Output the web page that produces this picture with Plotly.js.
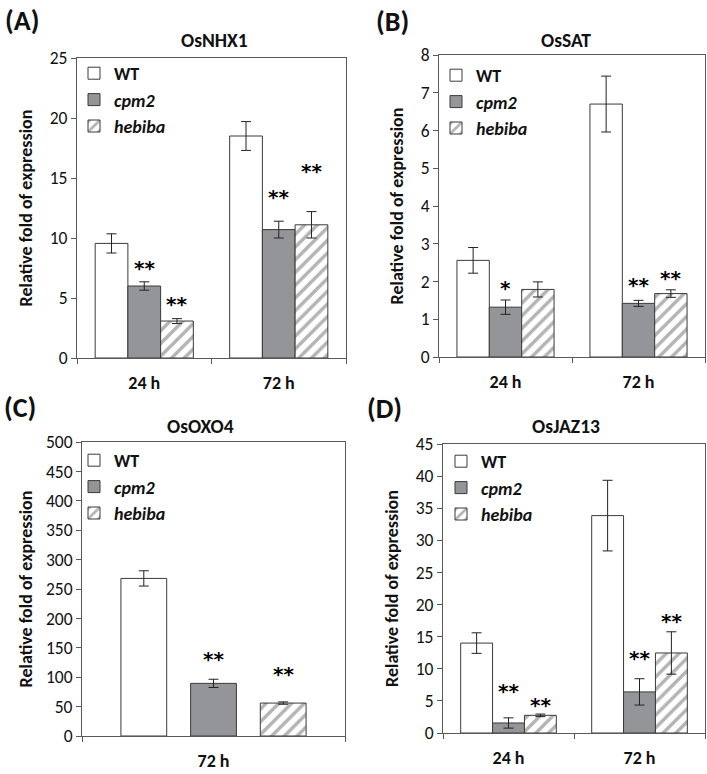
<!DOCTYPE html>
<html>
<head>
<meta charset="utf-8">
<script src="https://cdn.plot.ly/plotly-3.0.1.min.js"></script>
<style>html,body{margin:0;padding:0;background:#fff;}#chart{width:707px;height:774px;}</style>
</head>
<body>
<div id="chart"></div>
<script>
// ---------------- data ----------------
var genotypes = ['WT', 'cpm2', 'hebiba'];
var timesTwo = ['24 h', '72 h'];
var timesOne = ['72 h'];

// (A) OsNHX1
var nhx1WT = [9.55, 18.5];        var nhx1WTErr = [0.8, 1.2];
var nhx1Cpm2 = [6.0, 10.7];       var nhx1Cpm2Err = [0.35, 0.7];
var nhx1Hebiba = [3.08, 11.1];    var nhx1HebibaErr = [0.2, 1.1];
var nhx1Cpm2Sig = ['**', '**'];   var nhx1Cpm2SigY = [7.75, 13.7];
var nhx1HebibaSig = ['**', '**']; var nhx1HebibaSigY = [4.75, 15.8];

// (B) OsSAT
var satWT = [2.56, 6.7];          var satWTErr = [0.34, 0.74];
var satCpm2 = [1.32, 1.42];       var satCpm2Err = [0.19, 0.08];
var satHebiba = [1.79, 1.68];     var satHebibaErr = [0.2, 0.1];
var satCpm2Sig = ['*', '**'];     var satCpm2SigY = [1.9, 1.99];
var satHebibaSig = ['', '**'];    var satHebibaSigY = [null, 2.17];

// (C) OsOXO4
var oxo4WT = [268];               var oxo4WTErr = [13];
var oxo4Cpm2 = [89.5];            var oxo4Cpm2Err = [7];
var oxo4Hebiba = [56];            var oxo4HebibaErr = [2];
var oxo4Cpm2Sig = ['**'];         var oxo4Cpm2SigY = [136];
var oxo4HebibaSig = ['**'];       var oxo4HebibaSigY = [110];

// (D) OsJAZ13
var jaz13WT = [14.0, 33.85];      var jaz13WTErr = [1.6, 5.5];
var jaz13Cpm2 = [1.56, 6.4];      var jaz13Cpm2Err = [0.8, 2.05];
var jaz13Hebiba = [2.75, 12.46];  var jaz13HebibaErr = [0.2, 3.3];
var jaz13Cpm2Sig = ['**', '**'];  var jaz13Cpm2SigY = [7.0, 12.2];
var jaz13HebibaSig = ['**', '**'];var jaz13HebibaSigY = [4.9, 17.9];

var yTicksA = [0, 5, 10, 15, 20, 25];
var yTicksB = [0, 1, 2, 3, 4, 5, 6, 7, 8];
var yTicksC = [0, 50, 100, 150, 200, 250, 300, 350, 400, 450, 500];
var yTicksD = [0, 5, 10, 15, 20, 25, 30, 35, 40, 45];

// ---------------- styles ----------------
var FONT = 'Carlito, Lato, sans-serif';
var AX = '#595959';
var OUT = '#3a3a3a';
var legendNames = ['<b>WT</b>', '<b><i>cpm2</i></b>', '<b><i>hebiba</i></b>'];
var BARGAP = 0.27;

function markerFor(k) {
  if (k === 0) return {color: '#ffffff', line: {color: OUT, width: 1}};
  if (k === 1) return {color: '#939598', line: {color: OUT, width: 1}};
  return {color: '#ffffff', line: {color: OUT, width: 1},
          pattern: {shape: '/', fgcolor: '#b4b4b4', bgcolor: '#ffffff', size: 9, solidity: 0.38}};
}

var traces = [];
var annotations = [];

function addPanel(ax, legendId, cats, vals, errs, sigs, sigYs, custom) {
  var xa = 'x' + (ax === 1 ? '' : ax), ya = 'y' + (ax === 1 ? '' : ax);
  for (var k = 0; k < 3; k++) {
    var t = {
      type: 'bar', x: cats, y: vals[k], name: legendNames[k],
      xaxis: xa, yaxis: ya, legend: legendId,
      marker: markerFor(k),
      error_y: {type: 'data', array: errs[k], visible: true, color: '#222', thickness: 1, width: 5},
      hoverinfo: 'y'
    };
    if (custom) { t.width = custom.width; t.offset = custom.offsets[k]; }
    traces.push(t);
  }
  // significance stars
  for (var s = 1; s < 3; s++) {
    for (var i = 0; i < cats.length; i++) {
      if (!sigs[s - 1][i]) continue;
      var xpos;
      if (custom) xpos = i + custom.offsets[s] + custom.width / 2;
      else xpos = i + (s - 1) * (1 - BARGAP) / 3;
      annotations.push({
        xref: xa, yref: ya, x: xpos, y: sigYs[s - 1][i], text: '<b>' + sigs[s - 1][i] + '</b>',
        showarrow: false, xanchor: 'center', yanchor: 'middle', yshift: -3,
        font: {family: 'DejaVu Sans', size: 20, color: '#000000'}
      });
    }
  }
}

addPanel(1, 'legend', timesTwo,
  [nhx1WT, nhx1Cpm2, nhx1Hebiba], [nhx1WTErr, nhx1Cpm2Err, nhx1HebibaErr],
  [nhx1Cpm2Sig, nhx1HebibaSig], [nhx1Cpm2SigY, nhx1HebibaSigY]);
addPanel(2, 'legend2', timesTwo,
  [satWT, satCpm2, satHebiba], [satWTErr, satCpm2Err, satHebibaErr],
  [satCpm2Sig, satHebibaSig], [satCpm2SigY, satHebibaSigY]);
addPanel(3, 'legend3', timesOne,
  [oxo4WT, oxo4Cpm2, oxo4Hebiba], [oxo4WTErr, oxo4Cpm2Err, oxo4HebibaErr],
  [oxo4Cpm2Sig, oxo4HebibaSig], [oxo4Cpm2SigY, oxo4HebibaSigY],
  {width: 0.174, offsets: [-0.352, -0.087, 0.178]});
addPanel(4, 'legend4', timesTwo,
  [jaz13WT, jaz13Cpm2, jaz13Hebiba], [jaz13WTErr, jaz13Cpm2Err, jaz13HebibaErr],
  [jaz13Cpm2Sig, jaz13HebibaSig], [jaz13Cpm2SigY, jaz13HebibaSigY]);

var W = 707, H = 774;
function px(x) { return x / W; }
function py(y) { return 1 - y / H; }

function xAxis(l, r, anchor) {
  return {
    domain: [px(l), px(r)], anchor: anchor, type: 'category',
    showline: true, linecolor: AX, linewidth: 1, mirror: true,
    ticks: 'outside', tickson: 'boundaries', ticklen: 5, tickcolor: AX,
    showgrid: false, zeroline: false, fixedrange: true,
    ticklabelstandoff: 8,
    tickfont: {family: FONT, size: 18, color: '#111', weight: 'bold'}
  };
}
function yAxis(t, b, anchor, ticks, stand) {
  return {
    domain: [py(b), py(t)], anchor: anchor,
    range: [ticks[0], ticks[ticks.length - 1]], tickvals: ticks,
    showline: true, linecolor: AX, linewidth: 1, mirror: true,
    ticks: 'outside', ticklen: 5, tickcolor: AX,
    showgrid: false, zeroline: false, fixedrange: true,
    tickfont: {family: FONT, size: 17.5, color: '#111'},
    title: {text: '<b>Relative fold of expression</b>', standoff: stand,
            font: {family: FONT, size: 18, color: '#111'}}
  };
}
function legendAt(x, y) {
  return {x: px(x), y: py(y), xref: 'paper', yref: 'paper', xanchor: 'left', yanchor: 'top',
          bgcolor: 'rgba(0,0,0,0)', borderwidth: 0, tracegroupgap: 0,
          font: {family: FONT, size: 18, color: '#111'}, traceorder: 'normal'};
}
function label(text, x, y, size) {
  annotations.push({xref: 'paper', yref: 'paper', x: px(x), y: py(y), text: text,
    showarrow: false, xanchor: 'center', yanchor: 'middle',
    font: {family: FONT, size: size, color: '#111'}});
}

label('<b>(A)</b>', 22, 20, 28);
label('<b>(B)</b>', 392, 22, 28);
label('<b>(C)</b>', 20, 407, 28);
label('<b>(D)</b>', 384, 408, 28);
label('<b>OsNHX1</b>', 214, 40, 19.5);
label('<b>OsSAT</b>', 566, 40, 19.5);
label('<b>OsOXO4</b>', 200, 426, 19.5);
label('<b>OsJAZ13</b>', 566, 426, 19.5);

var layout = {
  width: W, height: H, margin: {l: 0, r: 0, t: 0, b: 0},
  paper_bgcolor: '#ffffff', plot_bgcolor: '#ffffff',
  barmode: 'group', bargap: BARGAP, bargroupgap: 0,
  font: {family: FONT, color: '#111'},
  xaxis: xAxis(77, 346, 'y'),
  yaxis: yAxis(58, 358, 'x', yTicksA, 12),
  xaxis2: xAxis(439, 705, 'y2'),
  yaxis2: yAxis(55, 357, 'x2', yTicksB, 12),
  xaxis3: xAxis(82, 345, 'y3'),
  yaxis3: yAxis(442, 736, 'x3', yTicksC, 8),
  xaxis4: xAxis(443, 705, 'y4'),
  yaxis4: yAxis(444, 733, 'x4', yTicksD, 12),
  legend: legendAt(74, 55),
  legend2: legendAt(436, 57),
  legend3: legendAt(74, 442),
  legend4: legendAt(441, 443),
  annotations: annotations,
  showlegend: true
};

Plotly.newPlot('chart', traces, layout, {displayModeBar: false, staticPlot: true});
</script>
</body>
</html>
